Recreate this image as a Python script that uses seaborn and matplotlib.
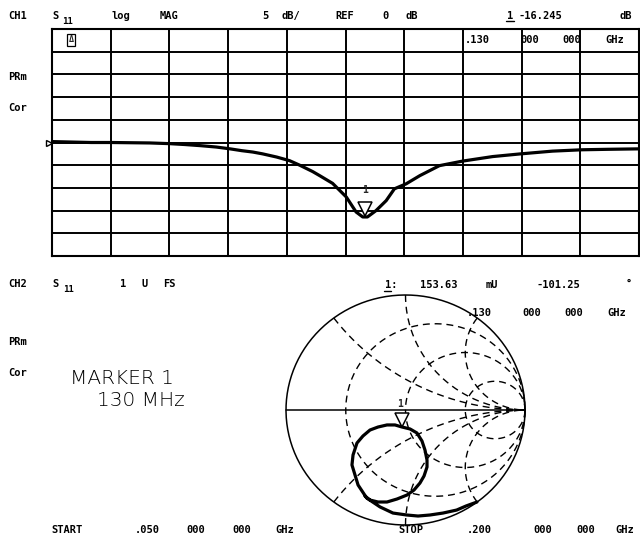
import numpy as np
import pandas as pd
import matplotlib
matplotlib.use("Agg")
import matplotlib.pyplot as plt
from matplotlib.transforms import offset_copy
from matplotlib.lines import Line2D
import seaborn as sns

# CH1: S11 log magnitude (dB) vs frequency (MHz)
freq_mhz = [50, 55, 60, 65, 70, 75, 80, 84, 88, 92, 95.5, 98.5, 101.3, 103.8, 107.4,
            110.7, 113.3, 116.6, 118.4, 121.7, 125.2, 127.7, 129.4, 130.6, 132.8,
            135.4, 137.5, 140.5, 144, 149, 154.9, 162.6, 169.8, 177.9, 185.5, 192, 200]
s11_db = [0.2, 0.1, 0.0, 0.0, -0.05, -0.1, -0.25, -0.45, -0.7, -1.0, -1.4, -1.8, -2.1,
          -2.5, -3.2, -4.0, -5.0, -6.4, -7.3, -9.0, -12.0, -15.3, -16.4, -16.4, -15.0,
          -12.8, -10.2, -9.1, -7.3, -5.1, -4.1, -3.1, -2.5, -1.9, -1.6, -1.5, -1.4]
marker_freq = 130.0
marker_db = -16.245

# CH2: S11 on the Smith chart (real / imaginary part of reflection coefficient)
smith_re = [0.598, 0.506, 0.428, 0.314, 0.205, 0.105, 0.010, -0.105, -0.213, -0.325,
            -0.397, -0.448, -0.439, -0.406, -0.356, -0.297, -0.230, -0.155, -0.088,
            -0.029, 0.038, 0.096, 0.138, 0.163, 0.180, 0.180, 0.155, 0.121, 0.071,
            0.013, -0.071, -0.155, -0.230, -0.297, -0.339]
smith_im = [-0.800, -0.835, -0.870, -0.896, -0.913, -0.922, -0.913, -0.896, -0.843, -0.765,
            -0.652, -0.478, -0.391, -0.287, -0.226, -0.174, -0.148, -0.130, -0.130,
            -0.148, -0.165, -0.200, -0.270, -0.348, -0.435, -0.496, -0.574, -0.635, -0.696,
            -0.739, -0.774, -0.800, -0.800, -0.783, -0.748]
marker_mag = 0.15363
marker_deg = -101.25

r_circles = [1 / 3, 1, 3]
x_arcs = [0.5, 1, 2]

sns.set_theme(style="white")
plt.rcParams["font.family"] = ["DejaVu Sans Mono", "DejaVu Sans"]

W, H = 640, 546
fig = plt.figure(figsize=(6.4, 5.46), dpi=100)
fig.patch.set_facecolor("white")


def rect(x0, y0, x1, y1):
    return [x0 / W, 1 - y1 / H, (x1 - x0) / W, (y1 - y0) / H]


def txt(x, y, s, size=7.5, weight="bold", **kw):
    fig.text(x / W, 1 - y / H, s, fontsize=size, fontweight=weight,
             va="center", ha="left", color="black", **kw)


# ---- log mag panel ----
ax1 = fig.add_axes(rect(52, 29, 639, 256))
log_df = pd.DataFrame({"freq": freq_mhz, "db": s11_db})
sns.lineplot(data=log_df, x="freq", y="db", ax=ax1, color="black", lw=2.3,
             estimator=None, sort=False)
ax1.set_xlim(50, 200)
ax1.set_ylim(-25, 25)
ax1.set_xticks(np.arange(50, 201, 15))
ax1.set_yticks(np.arange(-25, 26, 5))
ax1.grid(True, color="black", lw=1.4)
ax1.tick_params(length=0, labelbottom=False, labelleft=False)
ax1.set_xlabel("")
ax1.set_ylabel("")
for s in ax1.spines.values():
    s.set_color("black")
    s.set_linewidth(1.5)

# reference position arrow
ax1.plot(50, 0, marker=">", ms=5, mfc="white", mec="black", mew=1, clip_on=False,
         transform=offset_copy(ax1.transData, fig, x=-3, y=0, units="dots"))
# marker 1
ax1.plot(marker_freq, marker_db, marker="v", ms=10, mfc="white", mec="black", mew=1.1,
         zorder=5, transform=offset_copy(ax1.transData, fig, x=0, y=7, units="dots"))
ax1.annotate("1", xy=(marker_freq, marker_db), xytext=(0, 19), textcoords="offset points",
             ha="center", va="center", fontsize=7, fontweight="bold")

# ---- smith chart panel ----
cx, cy, rx, ry = 405.5, 410, 119.5, 115
ax2 = fig.add_axes(rect(cx - 1.1 * rx, cy - 1.1 * ry, cx + 1.1 * rx, cy + 1.1 * ry))
ax2.set_xlim(-1.1, 1.1)
ax2.set_ylim(-1.1, 1.1)
ax2.axis("off")
ax2.patch.set_alpha(0)

t = np.linspace(0, 2 * np.pi, 240)
ax2.plot(np.cos(t), np.sin(t), color="black", lw=1.1)
ax2.plot([-1, 1], [0, 0], color="black", lw=1.1)

dash = (0, (5, 3.5))
react = np.tan(np.linspace(-np.pi / 2 + 0.002, np.pi / 2 - 0.002, 500))
for r in r_circles:
    g = (r + 1j * react - 1) / (r + 1j * react + 1)
    ax2.plot(g.real, g.imag, color="black", lw=1.0, ls=dash)
res = np.tan(np.linspace(0, np.pi / 2 - 0.002, 400))
for x in x_arcs:
    for sgn in (1, -1):
        z = res + 1j * sgn * x
        g = (z - 1) / (z + 1)
        ax2.plot(g.real, g.imag, color="black", lw=1.0, ls=dash)

smith_df = pd.DataFrame({"re": smith_re, "im": smith_im})
sns.lineplot(data=smith_df, x="re", y="im", ax=ax2, color="black", lw=2.3,
             estimator=None, sort=False)
ax2.set_xlabel("")
ax2.set_ylabel("")

mre = marker_mag * np.cos(np.deg2rad(marker_deg))
mim = marker_mag * np.sin(np.deg2rad(marker_deg))
ax2.plot(mre, mim, marker="v", ms=10, mfc="white", mec="black", mew=1.1, zorder=5,
         transform=offset_copy(ax2.transData, fig, x=0, y=7, units="dots"))
ax2.annotate("1", xy=(mre, mim), xytext=(-1, 17), textcoords="offset points",
             ha="center", va="center", fontsize=7, fontweight="bold")

# ---- annotations ----
txt(8, 16, "CH1")
txt(52, 16, "S")
txt(62, 21, "11", size=6.5)
txt(112, 16, "log")
txt(160, 16, "MAG")
txt(262, 16, "5")
txt(282, 16, "dB/")
txt(335, 16, "REF")
txt(382, 16, "0")
txt(405, 16, "dB")
txt(507, 16, "1")
fig.add_artist(Line2D([506 / W, 514 / W], [1 - 21 / H, 1 - 21 / H], color="black", lw=1))
txt(518, 16, "-16.245")
txt(619, 16, "dB")

fig.text(71 / W, 1 - 40 / H, "Δ", fontsize=6, fontweight="bold", ha="center", va="center",
         bbox=dict(boxstyle="square,pad=0.15", fc="white", ec="black", lw=0.9))
txt(465, 40, ".130")
txt(520, 40, "000")
txt(562, 40, "000")
txt(605, 40, "GHz")

txt(8, 77, "PRm")
txt(8, 108, "Cor")

txt(8, 284, "CH2")
txt(52, 284, "S")
txt(63, 289, "11", size=6.5)
txt(120, 284, "1")
txt(141, 284, "U")
txt(163, 284, "FS")

txt(385, 285, "1:")
fig.add_artist(Line2D([384 / W, 391 / W], [1 - 291 / H, 1 - 291 / H], color="black", lw=1))
txt(420, 285, "153.63")
txt(486, 285, "mU")
txt(537, 285, "-101.25")
txt(626, 283, "°")
txt(467, 313, ".130")
txt(522, 313, "000")
txt(564, 313, "000")
txt(607, 313, "GHz")

txt(8, 342, "PRm")
txt(8, 373, "Cor")
txt(70, 378, "MARKER 1", size=14.5, weight="light", family="DejaVu Sans")
txt(97, 400, "130 MHz", size=14.5, weight="light", family="DejaVu Sans")

txt(51, 530, "START")
txt(135, 530, ".050")
txt(186, 530, "000")
txt(232, 530, "000")
txt(275, 530, "GHz")
txt(398, 530, "STOP")
txt(467, 530, ".200")
txt(533, 530, "000")
txt(576, 530, "000")
txt(615, 530, "GHz")

fig.savefig("out.png", dpi=100, facecolor="white")
